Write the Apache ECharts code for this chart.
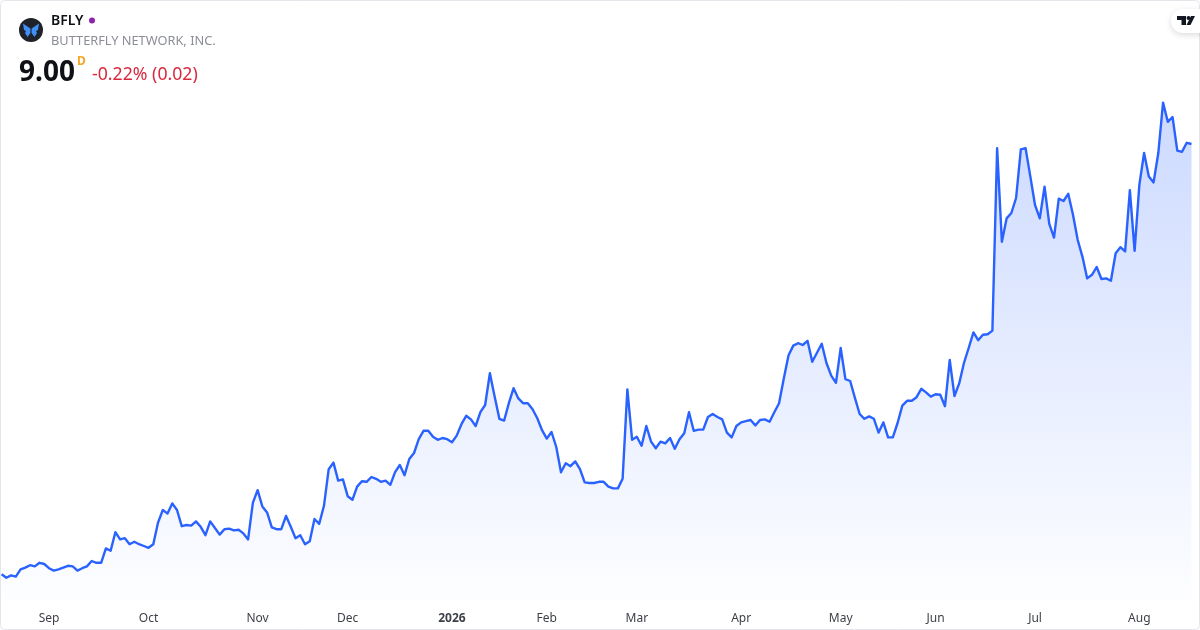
<!DOCTYPE html>
<html>
<head>
<meta charset="utf-8">
<style>html,body{margin:0;padding:0;background:#fff}#c{width:1200px;height:630px}</style>
<script src="https://cdn.jsdelivr.net/npm/echarts@6/dist/echarts.min.js"></script>
</head>
<body>
<div id="c"></div>
<script>
const startDate = '2025-08-18';
const holidays = ['2025-09-01','2025-11-27','2025-12-25','2026-01-01','2026-01-19','2026-02-16','2026-04-03','2026-05-25','2026-06-19','2026-07-03'];
const monthNames = ['2026','Feb','Mar','Apr','May','Jun','Jul','Aug','Sep','Oct','Nov','Dec'];
const closes = [
1.83,1.77,1.81,1.79,1.91,1.94,1.98,1.96,2.02,2.00,1.93,1.89,1.91,1.94,1.97,1.96,1.89,1.93,1.96,2.05,
2.02,2.02,2.26,2.22,2.53,2.41,2.43,2.33,2.37,2.33,2.30,2.27,2.33,2.69,2.90,2.84,3.01,2.90,2.63,2.65,
2.64,2.71,2.62,2.48,2.71,2.60,2.49,2.58,2.59,2.56,2.57,2.51,2.41,3.02,3.23,2.96,2.86,2.61,2.58,2.58,
2.80,2.62,2.43,2.48,2.33,2.38,2.75,2.67,2.97,3.58,3.69,3.39,3.41,3.13,3.07,3.29,3.38,3.37,3.45,3.42,
3.37,3.39,3.32,3.53,3.65,3.48,3.75,3.85,4.08,4.22,4.22,4.12,4.07,4.10,4.08,4.03,4.14,4.33,4.47,4.41,
4.30,4.53,4.65,5.18,4.79,4.42,4.39,4.68,4.93,4.76,4.68,4.68,4.58,4.43,4.23,4.09,4.20,3.95,3.53,3.68,
3.63,3.71,3.58,3.36,3.35,3.35,3.37,3.37,3.29,3.26,3.26,3.42,4.91,4.07,4.12,3.97,4.30,4.04,3.93,4.04,
4.01,4.10,3.92,4.08,4.18,4.53,4.22,4.24,4.24,4.45,4.50,4.45,4.41,4.19,4.11,4.30,4.36,4.38,4.40,4.31,
4.40,4.41,4.37,4.53,4.68,5.09,5.48,5.64,5.68,5.65,5.72,5.37,5.52,5.67,5.35,5.14,5.02,5.60,5.08,5.05,
4.77,4.50,4.42,4.46,4.42,4.19,4.36,4.11,4.11,4.35,4.64,4.72,4.72,4.78,4.92,4.86,4.79,4.83,4.82,4.63,
5.40,4.80,5.01,5.35,5.60,5.86,5.73,5.82,5.83,5.89,8.93,7.37,7.76,7.85,8.10,8.91,8.93,8.46,7.98,7.76,
8.29,7.67,7.44,8.09,8.05,8.17,7.82,7.40,7.12,6.76,6.82,6.95,6.75,6.76,6.72,7.18,7.28,7.21,8.23,7.22,
8.32,8.85,8.46,8.36,8.85,9.69,9.37,9.45,8.89,8.87,9.02,9.00
];
const symbol = 'BFLY';
const company = 'BUTTERFLY NETWORK, INC.';
const lastPrice = '9.00';
const changeText = '-0.22% (0.02)';

// trading days → category axis
const categories = [];
{
  const d = new Date(startDate + 'T00:00:00Z');
  while (categories.length < closes.length) {
    const s = d.toISOString().slice(0, 10), wd = d.getUTCDay();
    if (wd !== 0 && wd !== 6 && !holidays.includes(s)) categories.push(s);
    d.setUTCDate(d.getUTCDate() + 1);
  }
}
const isMonthStart = i => i > 0 && categories[i].slice(0, 7) !== categories[i - 1].slice(0, 7);

const chart = echarts.init(document.getElementById('c'), null, {renderer: 'canvas'});
const font = '"Noto Sans", "Open Sans", sans-serif';
chart.setOption({
  animation: false,
  backgroundColor: '#fff',
  grid: {left: 1.6, right: 8.5, top: 0, bottom: 30, containLabel: false},
  xAxis: {
    type: 'category', data: categories, boundaryGap: false,
    axisLine: {show: false}, axisTick: {show: false}, splitLine: {show: false},
    axisLabel: {
      margin: 13, fontFamily: font, fontSize: 12, color: '#3c3f47', hideOverlap: false,
      interval: i => isMonthStart(i),
      formatter: v => {
        const m = parseInt(v.slice(5, 7), 10);
        const name = monthNames[m - 1];
        return m === 1 ? '{b|' + name + '}' : name;
      },
      rich: {b: {fontFamily: font, fontSize: 12, fontWeight: 700, color: '#3c3f47'}}
    }
  },
  yAxis: {type: 'value', min: 1.4, max: 11.4, show: false, splitLine: {show: false}},
  series: [{
    type: 'line', data: closes, showSymbol: false, smooth: false,
    lineStyle: {color: '#2962ff', width: 2.4, join: 'round'},
    areaStyle: {origin: 'start', color: new echarts.graphic.LinearGradient(0, 102, 0, 600, [
      {offset: 0, color: 'rgba(41,98,255,0.34)'},
      {offset: 1, color: 'rgba(41,98,255,0.01)'}
    ], true)}
  }],
  graphic: [
    {type: 'rect', z: 20, shape: {x: 0.5, y: 0.5, width: 1199, height: 629, r: 4}, style: {fill: 'none', stroke: '#e4e6ec', lineWidth: 1}},
    // logo
    {type: 'circle', z: 20, shape: {cx: 31, cy: 30, r: 12}, style: {fill: '#1f2229'}},
    {type: 'polygon', z: 21, shape: {points: [[30.4,28.5],[23,23.5],[24,30],[26,31],[25,33],[27.5,37],[30.4,33]]}, style: {fill: '#3f8ff5'}},
    {type: 'polygon', z: 21, shape: {points: [[31.6,28.5],[39,23.5],[38,30],[36,31],[37,33],[34.5,37],[31.6,33]]}, style: {fill: '#3f8ff5'}},
    {type: 'text', z: 20, style: {x: 51, y: 21, text: symbol, verticalAlign: 'middle', fontFamily: font, fontSize: 14, fontWeight: 600, fill: '#0f1116'}},
    {type: 'circle', z: 20, shape: {cx: 92, cy: 20.5, r: 3}, style: {fill: '#8e24aa'}},
    {type: 'text', z: 20, style: {x: 51, y: 41, text: company, verticalAlign: 'middle', fontFamily: font, fontSize: 12.8, fill: '#8b8e97'}},
    {type: 'text', z: 20, style: {x: 19, y: 73, text: lastPrice, verticalAlign: 'middle', fontFamily: font, fontSize: 28, fontWeight: 700, fill: '#0f1116'}},
    {type: 'text', z: 20, style: {x: 77, y: 61.5, text: 'D', verticalAlign: 'middle', fontFamily: font, fontSize: 12, fontWeight: 700, fill: '#f5a623'}},
    {type: 'text', z: 20, style: {x: 92, y: 75, text: changeText, verticalAlign: 'middle', fontFamily: font, fontSize: 17.7, fill: '#d8293f'}},
    // TradingView badge
    {type: 'rect', z: 22, shape: {x: 1171, y: 9, width: 40, height: 24, r: 12}, style: {fill: '#fff', shadowBlur: 6, shadowColor: 'rgba(0,0,0,0.14)', shadowOffsetY: 2}},
    {type: 'polygon', z: 23, shape: {points: [[1177,16],[1186,16],[1186,25],[1181.5,25],[1181.5,20],[1177,20]]}, style: {fill: '#131722'}},
    {type: 'circle', z: 23, shape: {cx: 1188.5, cy: 18, r: 2}, style: {fill: '#131722'}},
    {type: 'polygon', z: 23, shape: {points: [[1191,16],[1195,16],[1190.5,25],[1186.5,25]]}, style: {fill: '#131722'}}
  ]
});
</script>
</body>
</html>
